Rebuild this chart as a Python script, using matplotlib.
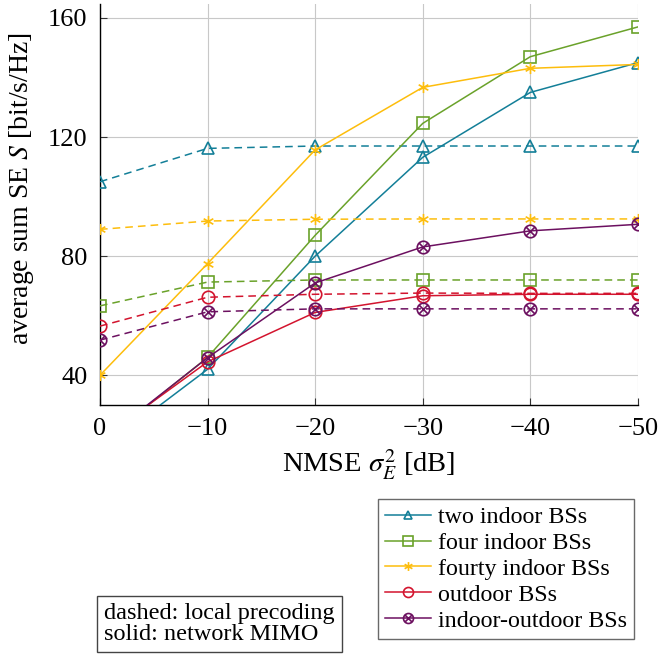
import numpy as np
import matplotlib.pyplot as plt
from matplotlib.path import Path

plt.rcParams["font.family"] = "Liberation Serif"
plt.rcParams["mathtext.fontset"] = "stix"

nmse_db = [0, -10, -20, -30, -40, -50]

labels = ["two indoor BSs", "four indoor BSs", "fourty indoor BSs",
          "outdoor BSs", "indoor-outdoor BSs"]

# local precoding (dashed)
two_local = [105, 116.2, 117, 117, 117, 117]
four_local = [63.3, 71.3, 72, 72, 72, 72]
fourty_local = [89, 91.8, 92.4, 92.5, 92.5, 92.5]
outdoor_local = [56.5, 66.2, 67.2, 67.6, 67.5, 67.5]
io_local = [51.8, 61.3, 62.3, 62.3, 62.3, 62.3]

# network MIMO (solid)
two_net = [14.7, 42, 80, 113.2, 135, 145]
four_net = [17, 46, 87, 124.6, 147, 157]
fourty_net = [40, 77.5, 115.7, 136.7, 143.1, 144.4]
outdoor_net = [18.2, 44.5, 61.1, 66.7, 67.2, 67.2]
io_net = [17.5, 45.9, 71, 83.1, 88.5, 90.7]

colors = ["#137f98", "#6aa22a", "#fdbd0c", "#d3142e", "#6c1060"]

# asterisk marker: vertical bar plus two diagonals
ang = np.deg2rad([90, 30, 150])
ast_verts, ast_codes = [], []
for a in ang:
    ast_verts += [(np.cos(a), np.sin(a)), (-np.cos(a), -np.sin(a))]
    ast_codes += [Path.MOVETO, Path.LINETO]
asterisk = Path(ast_verts, ast_codes)

# circle with an x inside
c = Path.unit_circle()
d = 0.7071
cross = Path([(-d, -d), (d, d), (-d, d), (d, -d)],
             [Path.MOVETO, Path.LINETO, Path.MOVETO, Path.LINETO])
otimes = Path.make_compound_path(c, cross)

markers = ["^", "s", asterisk, "o", otimes]
msizes = [8, 9, 8, 9, 9]

local = [two_local, four_local, fourty_local, outdoor_local, io_local]
net = [two_net, four_net, fourty_net, outdoor_net, io_net]

fig = plt.figure(figsize=(6.59, 6.56), dpi=100)
ax = fig.add_axes([0.1517, 0.3826, 0.8163, 0.6113])

handles = []
for i in range(5):
    ax.plot(nmse_db, local[i], color=colors[i], lw=1.1, dashes=(5, 3.3),
            marker=markers[i], ms=msizes[i], mfc="none", mew=1.2, zorder=3)
    h, = ax.plot(nmse_db, net[i], color=colors[i], lw=1.1,
                 marker=markers[i], ms=msizes[i], mfc="none", mew=1.2,
                 zorder=3, label=labels[i])
    handles.append(h)

ax.set_xlim(0, -50)
ax.set_ylim(30, 164.7)
ax.set_xticks(nmse_db)
ax.set_xticklabels(["0"] + ["\u2212%d" % (-v) for v in nmse_db[1:]])
ax.set_yticks([40, 80, 120, 160])
ax.tick_params(direction="in", length=5, width=0.8, labelsize=19, pad=9,
               color="#333333")
ax.grid(True, color="#c8c8c8", lw=0.8)
ax.set_axisbelow(True)
for s in ["top", "right"]:
    ax.spines[s].set_visible(False)
for s in ["left", "bottom"]:
    ax.spines[s].set_linewidth(1.0)

ax.set_xlabel(r"NMSE $\sigma_E^2$ [dB]", fontsize=20.5, labelpad=6)
ax.set_ylabel(r"average sum SE $S$ [bit/s/Hz]", fontsize=20)
ax.yaxis.set_label_coords(-0.118, 0.54)

leg = fig.legend(handles=handles, loc="upper right",
                 bbox_to_anchor=(634 / 659, 1 - 499 / 656),
                 fontsize=17.3, frameon=True, fancybox=False,
                 edgecolor="#444444", handlelength=1.9, handletextpad=0.3,
                 borderpad=0.3, labelspacing=0.17, borderaxespad=0,
                 markerscale=0.8)
leg.get_frame().set_linewidth(1.0)

fig.text(104 / 659, 1 - 645 / 656, "dashed: local precoding\nsolid: network MIMO",
         fontsize=17.5, ha="left", va="bottom", linespacing=1.0,
         bbox=dict(boxstyle="square,pad=0.3", fc="white", ec="#444444", lw=1.0))

fig.savefig("out.png", dpi=100)
